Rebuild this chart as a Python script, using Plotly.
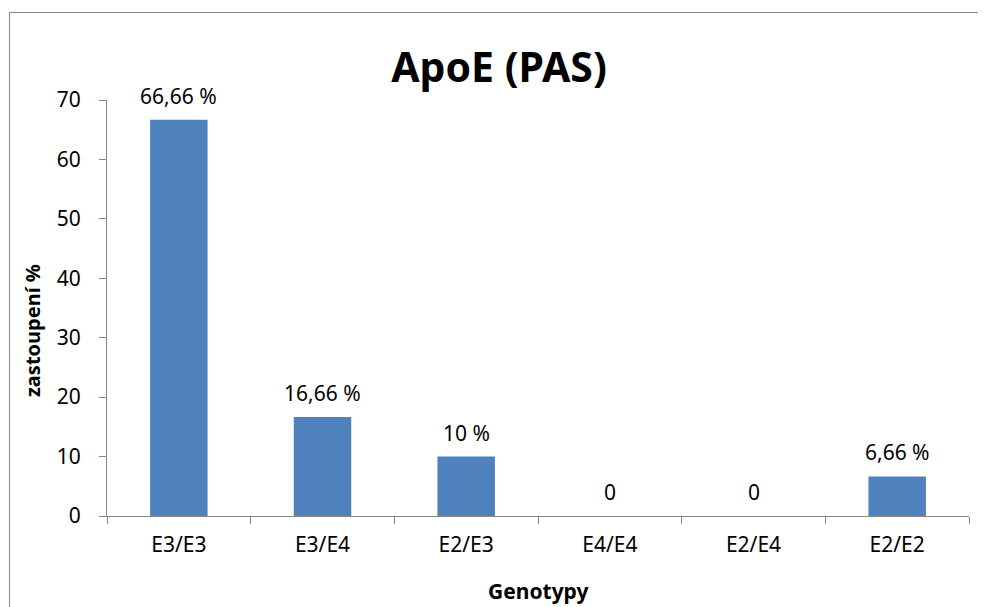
import plotly.graph_objects as go

categories = ["E3/E3", "E3/E4", "E2/E3", "E4/E4", "E2/E4", "E2/E2"]
values = [66.66, 16.66, 10, 0, 0, 6.66]
labels = ["66,66 %", "16,66 %", "10 %", "0", "0", "6,66 %"]
yticks = [0, 10, 20, 30, 40, 50, 60, 70]

# page body has an 8px margin, so the figure is sized/offset to compensate
OFF = 8
W, H = 978, 599
L, R, T, B = 99, 17, 92, 91
pw, ph = W - L - R, H - T - B

def px(x):  # screen x -> paper x
    return (x - OFF - L) / pw

def py(y):  # screen y -> paper y
    return (H - B - (y - OFF)) / ph

fig = go.Figure(go.Bar(
    x=categories, y=values,
    marker=dict(color="#4F81BD", line=dict(width=0)),
    width=0.4,
))

for c, v, t in zip(categories, values, labels):
    fig.add_annotation(x=c, y=v, text=t, showarrow=False, yanchor="bottom",
                       yshift=8, font=dict(size=21, color="#000000"))

fig.add_annotation(xref="paper", yref="paper", x=px(32), y=py(331),
                   text="<b>zastoupení %</b>", textangle=-90, showarrow=False,
                   xanchor="center", yanchor="middle",
                   font=dict(size=20, color="#000000"))

fig.add_annotation(xref="paper", yref="paper", x=px(538), y=py(591),
                   text="<b>Genotypy</b>", showarrow=False,
                   xanchor="center", yanchor="middle",
                   font=dict(size=21, color="#000000"))

font = "Noto Sans, Open Sans, sans-serif"
border = dict(color="#878787", width=1)
fig.update_layout(
    width=W, height=H,
    margin=dict(l=L, r=R, t=T, b=B),
    paper_bgcolor="white", plot_bgcolor="white",
    font=dict(family=font, color="#000000"),
    showlegend=False,
    title=dict(text="<b>ApoE (PAS)</b>", x=(499 - OFF) / W, xanchor="center",
               y=1 - (68 - OFF) / H, yanchor="middle", font=dict(size=41)),
    xaxis=dict(
        showline=True, linecolor="#878787", linewidth=1,
        ticks="outside", ticklen=7, tickcolor="#878787", tickson="boundaries",
        tickfont=dict(size=21), ticklabelstandoff=10,
        showgrid=False,
    ),
    yaxis=dict(
        range=[0, 70], tickvals=yticks,
        showline=True, linecolor="#878787", linewidth=1,
        ticks="outside", ticklen=7, tickcolor="#878787",
        tickfont=dict(size=21), ticklabelstandoff=14, showgrid=False, zeroline=False,
    ),
    shapes=[
        dict(type="line", xref="paper", yref="paper",
             x0=px(9.5), x1=px(1200), y0=py(12.5), y1=py(12.5), line=border, layer="below"),
        dict(type="line", xref="paper", yref="paper",
             x0=px(9.5), x1=px(9.5), y0=py(12.5), y1=py(800), line=border, layer="below"),
    ],
)

fig.write_html("out.html", post_script="document.body.style.overflow='hidden';")
